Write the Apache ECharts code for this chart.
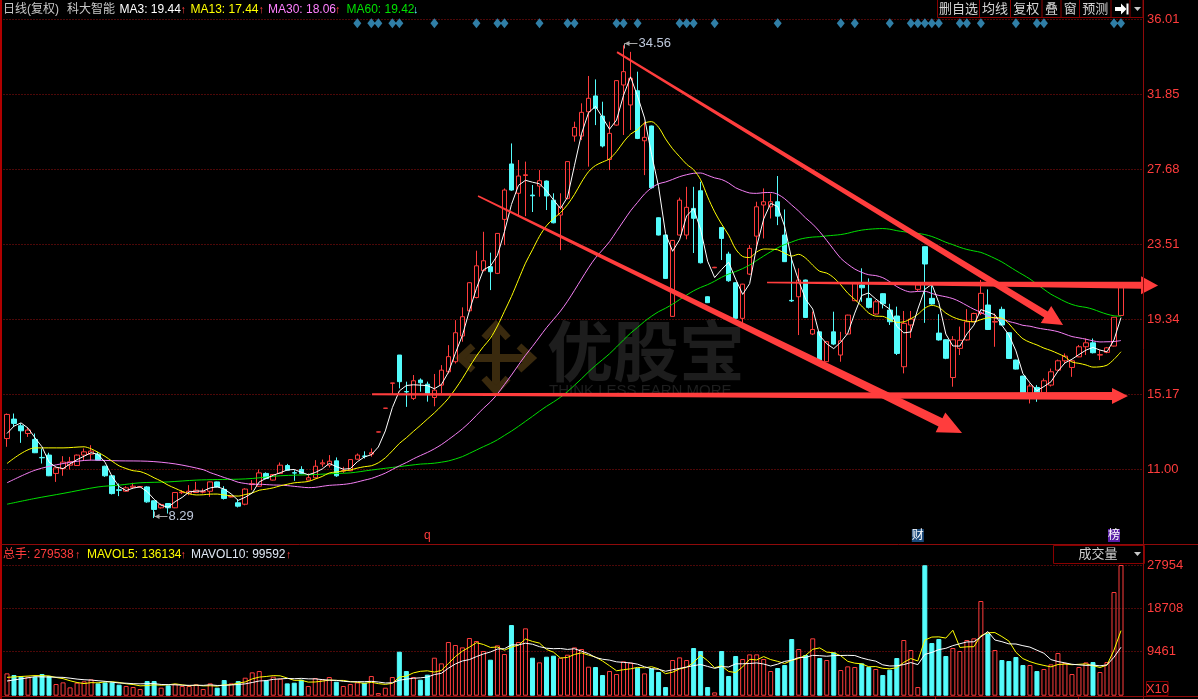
<!DOCTYPE html>
<html>
<head>
<meta charset="utf-8">
<title>科大智能 日线(复权)</title>
<script src="https://cdn.jsdelivr.net/npm/echarts@6/dist/echarts.min.js"></script>
<style>
html,body{margin:0;padding:0;background:#000;overflow:hidden;}
#chart{width:1198px;height:699px;}
</style>
</head>
<body>
<div id="chart"></div>
<script>
// ---------------- data ----------------
const opens = [
  12.71, 13.79, 13.42, 12.99, 12.66, 11.66, 11.79, 10.77, 11.04, 11.23,
  11.21, 11.79, 11.84, 11.84, 11.17, 10.64, 9.86, 9.78, 10.00, 10.02,
  10.02, 9.25, 8.86, 9.10, 8.86, 9.70, 9.66, 9.71, 9.73, 9.78,
  10.30, 9.88, 9.46, 9.14, 9.06, 10.15, 10.06, 10.77, 10.40, 10.77,
  11.21, 10.81, 10.99, 10.40, 10.53, 11.30, 11.23, 11.47, 10.90, 10.92,
  11.56, 11.74, 11.84, 13.07, 14.39, 15.78, 17.35, 15.32, 14.94, 15.96,
  15.73, 14.99, 15.68, 16.42, 16.98, 18.41, 19.81, 20.55, 22.04, 22.26,
  21.89, 24.89, 27.97, 26.34, 27.33, 26.24, 26.74, 27.02, 25.96, 25.13,
  26.06, 29.52, 29.52, 30.87, 31.75, 30.63, 28.22, 30.13, 32.36, 31.25,
  32.04, 29.26, 30.08, 24.98, 24.02, 19.50, 24.02, 24.02, 25.50, 26.48,
  20.59, 22.20, 24.44, 22.96, 21.37, 19.39, 21.85, 23.96, 25.69, 25.59,
  25.87, 24.02, 20.39, 20.59, 21.52, 18.52, 18.64, 16.98, 18.64, 17.35,
  18.52, 20.37, 21.24, 20.50, 19.63, 20.76, 19.85, 19.52, 16.70, 19.02,
  21.00, 23.37, 20.50, 18.57, 18.20, 16.10, 17.72, 18.19, 19.20, 19.66,
  20.13, 19.18, 19.89, 18.59, 17.07, 16.18, 15.22, 15.55, 15.25, 15.68,
  16.51, 17.03, 16.66, 17.25, 17.81, 18.03, 17.35, 17.50, 17.85, 19.55
];
const closes = [
  14.05, 13.55, 13.14, 13.18, 11.92, 11.64, 10.64, 11.08, 11.40, 11.42,
  11.79, 11.97, 12.01, 11.51, 10.64, 9.65, 9.83, 9.97, 10.06, 10.04,
  9.19, 8.77, 9.04, 8.86, 9.71, 9.74, 9.78, 9.84, 9.76, 10.30,
  10.02, 9.38, 9.49, 8.95, 9.90, 10.20, 10.80, 10.49, 10.71, 11.23,
  10.95, 10.79, 10.77, 10.53, 11.17, 11.36, 11.45, 10.64, 10.93, 11.54,
  11.79, 11.72, 11.92, 13.08, 14.40, 15.80, 15.87, 15.30, 15.92, 15.81,
  15.22, 15.40, 16.51, 17.26, 18.59, 19.48, 21.37, 22.31, 22.59, 21.98,
  24.11, 26.52, 26.52, 27.30, 27.37, 26.20, 27.04, 26.19, 24.70, 25.59,
  28.10, 30.00, 30.84, 31.62, 31.06, 28.97, 29.67, 32.60, 33.10, 32.73,
  29.39, 29.45, 26.65, 24.02, 21.61, 23.72, 25.96, 25.56, 24.95, 22.48,
  20.26, 22.23, 23.83, 21.48, 19.39, 21.29, 23.28, 25.59, 25.87, 25.87,
  25.07, 22.54, 20.36, 21.52, 19.44, 18.77, 17.07, 18.09, 17.96, 18.14,
  19.57, 21.33, 21.09, 20.00, 20.31, 20.20, 19.20, 17.44, 19.11, 19.35,
  21.25, 22.41, 20.19, 18.19, 17.17, 18.20, 18.17, 19.20, 19.66, 20.78,
  18.77, 19.22, 19.02, 17.16, 16.57, 15.22, 15.63, 15.25, 15.92, 16.42,
  17.03, 17.29, 17.03, 17.81, 18.03, 17.48, 17.37, 17.75, 19.45, 21.10
];
const lows = [
  12.25, 13.36, 12.47, 12.80, 11.90, 11.32, 10.62, 10.30, 10.64, 10.99,
  11.19, 11.50, 11.51, 11.49, 10.58, 9.60, 9.51, 9.75, 9.93, 10.00,
  9.14, 8.29, 8.82, 8.54, 8.84, 9.62, 9.56, 9.70, 9.66, 9.47,
  10.00, 9.32, 9.44, 8.88, 9.00, 9.84, 10.02, 10.45, 10.38, 10.75,
  10.93, 10.36, 10.73, 10.38, 10.49, 11.14, 11.10, 10.58, 10.80, 10.90,
  11.54, 11.60, 11.70, 13.06, 14.38, 15.15, 15.50, 14.47, 14.85, 15.31,
  14.76, 14.50, 15.22, 16.33, 16.88, 18.09, 19.78, 20.50, 22.00, 20.96,
  21.85, 23.46, 26.48, 25.13, 25.07, 25.30, 26.15, 25.41, 24.67, 23.18,
  26.00, 29.21, 29.30, 27.82, 30.13, 28.89, 27.63, 30.10, 29.58, 29.86,
  29.35, 27.35, 26.60, 24.00, 21.58, 19.48, 24.00, 23.78, 23.02, 22.44,
  20.24, 22.18, 22.63, 21.42, 19.37, 19.10, 21.80, 23.22, 23.83, 24.94,
  24.57, 22.52, 20.30, 18.46, 19.42, 18.46, 16.98, 16.96, 17.90, 16.98,
  18.50, 20.35, 20.31, 19.94, 19.60, 19.94, 19.02, 17.35, 16.33, 18.30,
  20.90, 19.14, 20.15, 18.15, 17.12, 15.59, 17.35, 18.15, 19.18, 19.57,
  18.74, 17.81, 19.00, 17.14, 16.55, 15.03, 14.66, 14.75, 15.23, 15.60,
  16.49, 16.88, 16.14, 17.23, 17.35, 17.44, 17.07, 17.45, 17.83, 19.53
];
const highs = [
  14.10, 14.10, 13.55, 13.30, 12.99, 12.15, 11.92, 11.10, 11.73, 11.69,
  11.82, 12.16, 12.34, 11.97, 11.20, 10.66, 10.21, 10.06, 10.25, 10.06,
  10.06, 9.27, 9.10, 9.12, 9.73, 9.84, 10.12, 10.30, 9.93, 10.32,
  10.32, 10.06, 9.52, 9.32, 9.95, 10.40, 10.99, 10.83, 10.73, 11.38,
  11.30, 10.95, 11.17, 10.77, 11.51, 11.54, 11.79, 11.66, 11.14, 11.56,
  11.88, 12.00, 12.16, 13.09, 14.41, 15.80, 17.35, 15.87, 16.24, 16.05,
  15.87, 16.30, 16.79, 17.90, 19.29, 20.00, 21.40, 23.15, 24.20, 23.04,
  24.13, 26.61, 29.11, 28.19, 28.10, 26.80, 27.63, 27.05, 26.34, 26.34,
  28.12, 30.32, 31.34, 32.86, 32.67, 31.43, 30.32, 32.62, 34.56, 34.20,
  33.10, 30.32, 30.10, 25.00, 24.04, 23.74, 26.10, 26.70, 26.70, 26.98,
  20.61, 22.25, 24.46, 23.09, 21.39, 21.31, 23.46, 25.87, 26.61, 26.33,
  27.30, 25.44, 22.81, 22.17, 21.54, 19.76, 18.66, 18.11, 19.76, 18.64,
  19.59, 21.37, 22.17, 21.61, 20.41, 20.78, 20.20, 20.04, 19.80, 19.80,
  21.40, 23.39, 21.24, 19.62, 18.22, 18.40, 18.93, 19.90, 19.70, 21.52,
  21.00, 19.66, 20.04, 18.61, 17.09, 16.20, 15.77, 15.68, 16.05, 16.60,
  17.10, 17.44, 17.05, 17.91, 18.27, 18.27, 17.63, 17.80, 19.47, 21.12
];
// volume in units of 10 hands (axis "X10")
const volumes = [
  4777, 4421, 4207, 4064, 4064, 4635, 4207, 2496, 2852, 1783,
  2781, 3066, 3494, 2638, 2852, 2852, 2353, 2068, 1854, 1426,
  3137, 3137, 1711, 2210, 2496, 2068, 2068, 2424, 1426, 2638,
  1711, 3351, 2638, 3137, 3850, 4991, 5276, 3280, 4064, 3636,
  2638, 2781, 3422, 2068, 3779, 3494, 3993, 2995, 2068, 2496,
  2852, 2781, 4207, 570, 1711, 3993, 9412, 5276, 3993, 3422,
  4492, 8128, 6916, 11479, 10838, 10339, 12335, 11693, 9554, 7700,
  10766, 8913, 15116, 11479, 14403, 8128, 7130, 8342, 8556, 8128,
  8770, 10339, 9982, 6203, 6132, 4421, 5276, 4635, 7344, 7059,
  5989, 4777, 5847, 5062, 1854, 7629, 8200, 7629, 10196, 9554,
  1854, 713, 9554, 4207, 8485, 7843, 8841, 8841, 7843, 5276,
  5918, 6560, 12121, 9982, 8699, 12264, 8057, 7629, 9269, 5490,
  6274, 6132, 6916, 6132, 5704, 4421, 5561, 8057, 11907, 9768,
  1854, 27900, 11265, 12121, 8485, 10196, 9554, 11907, 12264, 20249,
  13333, 9768, 7629, 7415, 8271, 6560, 6560, 5276, 5704, 6702,
  9126, 6987, 4635, 6132, 7130, 7201, 5062, 7201, 22174, 27954
];

// moving-average values at the left edge (their windows start before the visible days)
const ma3Early = [[0, 12.99], [1, 13.40]];
const ma13Early = [[0, 11.32], [4, 12.19], [8, 12.19], [11, 12.25]];
const ma30Early = [[0, 10.25], [4, 10.95], [8, 11.32], [12, 11.51], [16, 11.47], [20, 11.45], [24, 11.30], [28, 10.98]];
const ma60Early = [[0, 9.06], [4, 9.38], [8, 9.66], [13, 10.02], [16, 10.12], [19, 10.25], [23, 10.30], [27, 10.40],
  [30, 10.43], [33, 10.45], [35, 10.49], [39, 10.64], [44, 10.71], [47, 10.77], [49, 10.80], [52, 10.96], [56, 11.15]];
const mavol5Early = [[0, 3920], [3, 4200]];
const mavol10Early = [[0, 3140], [4, 4060], [8, 3920]];

// axis ticks
const priceTicks = [11.00, 15.17, 19.34, 23.51, 27.68, 31.85, 36.01];
const volumeTicks = [9461, 18708, 27954];

// legend texts
const titleText = ['日线(复权)', '科大智能'];
const maLegend = ['MA3: 19.44', 'MA13: 17.44', 'MA30: 18.06', 'MA60: 19.42'];
const maTrend = ['↑', '↑', '↑', '↓'];
const volLegend = ['总手: 279538', 'MAVOL5: 136134', 'MAVOL10: 99592'];
const toolbarLabels = ['删自选', '均线', '复权', '叠', '窗', '预测'];

// signal diamonds (day indexes), extreme labels, event marks, drawn trend lines [day, price, day, price]
const signalDays = [50, 52, 53, 55, 56, 61, 67, 70, 71, 76, 80, 81, 87, 88, 90, 96, 97, 98, 101, 110,
  119, 121, 126, 129, 130, 131, 132, 133, 136, 137, 139, 144, 147, 148, 158, 159];
const extremes = [[88, 34.56], [21, 8.29]];
const eventMarks = [[60, 'q'], [130, '财'], [158, '榜']];
const trendLines = [
  [87.07, 34.19, 150.73, 19.02],
  [67.23, 26.19, 136.31, 13.02],
  [108.48, 21.38, 164.29, 21.22],
  [52.10, 15.17, 160.00, 15.07]
];

// ---------------- styles ----------------
const RED = '#ff3c3c';
const CYAN = '#54fcfc';
const ARROW_RED = '#ff3d3d';
const GRID_DOT = '#9a1010';
const FRAME = '#8f0a0a';
const FONT = "'Liberation Sans','Noto Sans CJK SC',sans-serif";
const DIAMOND_Y = 35.79;
const EVENT_Y = 7.32;
const arrowStyles = [
  {w0: 2, w1: 7, hl: 20, hw: 10},
  {w0: 1.5, w1: 9, hl: 24, hw: 11},
  {w0: 1.5, w1: 7, hl: 17, hw: 9},
  {w0: 2, w1: 8, hl: 16, hw: 8}
];
const eventStyles = {
  'q': {fg: RED, bg: 'transparent'},
  '财': {fg: '#ffffff', bg: '#1b4a7c'},
  '榜': {fg: '#ffffff', bg: '#5a1ea6'}
};

function movingAverage(values, n) {
  const out = [];
  let sum = 0;
  for (let i = 0; i < values.length; i++) {
    sum += values[i];
    if (i >= n) sum -= values[i - n];
    if (i >= n - 1) out.push([i, +(sum / n).toFixed(3)]);
  }
  return out;
}

const candleData = opens.map((o, i) => [i, o, closes[i], lows[i], highs[i]]);
const volumeData = volumes.map((v, i) => {
  const up = closes[i] >= opens[i];
  return {
    value: [i, v],
    itemStyle: up ? {color: 'rgba(0,0,0,0)', borderColor: RED, borderWidth: 1}
                  : {color: CYAN, borderColor: CYAN, borderWidth: 1}
  };
});
const maxHigh = Math.max.apply(null, highs);

const X_MIN = -0.5, X_MAX = 162.14;
const GRID_LEFT = 3.5, GRID_W = 1139.5;

function lineSeries(name, data, color, xi, smooth) {
  return {
    type: 'line', name, data, xAxisIndex: xi, yAxisIndex: xi,
    symbol: 'none', showSymbol: false, smooth: smooth || false, silent: true, z: 3,
    lineStyle: {color, width: 1}
  };
}

function renderArrow(params, api) {
  const a = api.coord([api.value(0), api.value(1)]);
  const b = api.coord([api.value(2), api.value(3)]);
  const s = arrowStyles[params.dataIndex];
  const dx = b[0] - a[0], dy = b[1] - a[1], len = Math.hypot(dx, dy);
  const ux = dx / len, uy = dy / len, nx = -uy, ny = ux;
  const bx = b[0] - ux * s.hl, by = b[1] - uy * s.hl;
  const pts = [
    [a[0] + nx * s.w0 / 2, a[1] + ny * s.w0 / 2],
    [bx + nx * s.w1 / 2, by + ny * s.w1 / 2],
    [bx + nx * s.hw, by + ny * s.hw],
    [b[0], b[1]],
    [bx - nx * s.hw, by - ny * s.hw],
    [bx - nx * s.w1 / 2, by - ny * s.w1 / 2],
    [a[0] - nx * s.w0 / 2, a[1] - ny * s.w0 / 2]
  ];
  return {type: 'polygon', shape: {points: pts}, style: {fill: ARROW_RED}};
}

function renderExtreme(params, api) {
  const v = api.value(1);
  const p = api.coord([api.value(0), v]);
  const dir = v >= maxHigh ? 1 : -1;
  const x = Math.round(p[0]) + 0.5, y = Math.round(p[1] - 2) + 0.5;
  const c = '#a8a8a8';
  return {type: 'group', children: [
    {type: 'line', shape: {x1: x, y1: y, x2: x + 13, y2: y}, style: {stroke: c, lineWidth: 1}},
    {type: 'polygon', shape: {points: [[x, y], [x + 5, y - 2.5], [x + 5, y + 2.5]]}, style: {fill: c}},
    {type: 'line', shape: {x1: x, y1: y, x2: x, y2: y + 5 * dir}, style: {stroke: c, lineWidth: 1}},
    {type: 'text', x: x + 14, y: y, style: {text: v.toFixed(2), fill: '#bfc9dc', font: '13px ' + FONT, align: 'left', verticalAlign: 'middle'}}
  ]};
}

function renderEvent(params, api) {
  const p = api.coord([api.value(0), api.value(1)]);
  const txt = eventMarks[params.dataIndex][1];
  const st = eventStyles[txt];
  return {type: 'text', x: p[0], y: p[1], style: {
    text: txt, fill: st.fg, backgroundColor: st.bg, font: '12px ' + FONT,
    align: 'center', verticalAlign: 'middle', padding: [1, 0, 0, 0]
  }};
}

// ---------------- decorations (pixel layout) ----------------
function t(x, y, text, color, size, align, extra) {
  return Object.assign({type: 'text', x, y, z: 100, silent: true, style: {
    text, fill: color, font: (size || 12) + 'px ' + FONT, align: align || 'left', verticalAlign: 'middle'
  }}, extra || {});
}
function ln(x1, y1, x2, y2, color, w, z) {
  return {type: 'line', z: z == null ? 100 : z, silent: true, shape: {x1, y1, x2, y2}, style: {stroke: color, lineWidth: w || 1}};
}
function box(x, y, w, h, stroke, fill) {
  return {type: 'rect', z: 99, silent: true, shape: {x, y, width: w, height: h}, style: {stroke, fill: fill || 'rgba(0,0,0,0)', lineWidth: 1}};
}

const graphics = [];
// frame
graphics.push({type: 'rect', z: 100, silent: true, shape: {x: 0, y: 0, width: 2, height: 699}, style: {fill: '#b00000'}});
graphics.push(ln(1143.5, 0, 1143.5, 699, FRAME, 1));
graphics.push(ln(0, 544.5, 1198, 544.5, FRAME, 1));
graphics.push(ln(0, 696.5, 1198, 696.5, FRAME, 1));
graphics.push(box(935.5, 696.5, 143, 4, '#a00000'));
// header
graphics.push(t(3, 9.5, titleText[0], '#c8c8c8', 12));
graphics.push(t(67, 9.5, titleText[1], '#c8c8c8', 12));
const maColors = ['#ffffff', '#ffff00', '#ff80ff', '#00e000'];
const maX = [119.5, 190.5, 268, 346.5];
const arrowX = [180.5, 258.5, 335, 413];
maLegend.forEach((s, k) => {
  graphics.push(t(maX[k], 9.5, s, maColors[k], 12));
  graphics.push(t(arrowX[k], 9.5, maTrend[k], maTrend[k] === '↑' ? RED : CYAN, 11));
});
// toolbar
const tbEdges = [937.5, 979.5, 1010.5, 1042, 1061, 1079.5, 1111, 1130, 1143];
graphics.push(box(937.5, -1, 205.5, 18.5, '#8a0000', '#000'));
for (let k = 1; k < tbEdges.length - 1; k++) graphics.push(ln(tbEdges[k], 0, tbEdges[k], 17.5, '#8a0000', 1));
toolbarLabels.forEach((s, k) => graphics.push(t((tbEdges[k] + tbEdges[k + 1]) / 2, 9, s, '#d4d4d4', 13, 'center')));
graphics.push({type: 'polygon', z: 101, silent: true, shape: {points: [[1115, 7], [1121, 7], [1121, 3.5], [1126.5, 9], [1121, 14.5], [1121, 11], [1115, 11]]}, style: {fill: '#ffffff'}});
graphics.push({type: 'rect', z: 101, silent: true, shape: {x: 1126.5, y: 3.5, width: 2, height: 11}, style: {fill: '#ffffff'}});
graphics.push({type: 'polygon', z: 101, silent: true, shape: {points: [[1134, 7], [1141, 7], [1137.5, 11]]}, style: {fill: '#c8c8c8'}});
// volume legend
graphics.push(t(3, 555, volLegend[0], RED, 12));
graphics.push(t(75, 555, '↑', RED, 11));
graphics.push(t(87, 555, volLegend[1], '#ffff00', 12));
graphics.push(t(180.5, 555, '↑', RED, 11));
graphics.push(t(191, 555, volLegend[2], '#dfe8f5', 12));
graphics.push(t(286, 555, '↑', RED, 11));
// 成交量 box
graphics.push(box(1053.5, 545.5, 91, 18, '#8a0000', '#000'));
graphics.push(t(1098, 554.5, '成交量', '#d0d0d0', 13, 'center'));
graphics.push({type: 'polygon', z: 101, silent: true, shape: {points: [[1134, 552], [1141, 552], [1137.5, 556]]}, style: {fill: '#c8c8c8'}});
// X10 box
graphics.push(box(1146.5, 681.5, 21.5, 14, '#8a0000', '#000'));
graphics.push(t(1157.5, 689, 'X10', RED, 13, 'center'));
// watermark
const WM = '#3a2a0e';
const wm = [
  ln(496, 328, 496, 388, WM, 8, 0), ln(463, 358, 529, 358, WM, 8, 0),
  {type: 'polyline', z: 0, silent: true, shape: {points: [[484, 338], [496, 325], [508, 338]]}, style: {stroke: WM, lineWidth: 7, fill: null}},
  {type: 'polyline', z: 0, silent: true, shape: {points: [[484, 378], [496, 391], [508, 378]]}, style: {stroke: WM, lineWidth: 7, fill: null}},
  {type: 'polyline', z: 0, silent: true, shape: {points: [[473, 346], [460, 358], [473, 370]]}, style: {stroke: WM, lineWidth: 7, fill: null}},
  {type: 'polyline', z: 0, silent: true, shape: {points: [[519, 346], [532, 358], [519, 370]]}, style: {stroke: WM, lineWidth: 7, fill: null}},
  {type: 'text', z: 0, silent: true, x: 547, y: 351, style: {text: '优股宝', fill: '#1d1d1d', font: 'bold 66px \'Noto Sans CJK SC\',sans-serif', align: 'left', verticalAlign: 'middle'}},
  {type: 'text', z: 0, silent: true, x: 549, y: 391, style: {text: 'THINK LESS EARN MORE', fill: '#1f1f1f', font: '15px ' + FONT, align: 'left', verticalAlign: 'middle'}}
];
wm.forEach(g => graphics.push(g));

// ---------------- option ----------------
const chart = echarts.init(document.getElementById('chart'), null, {renderer: 'canvas'});
const option = {
  backgroundColor: '#000000',
  animation: false,
  grid: [
    {left: GRID_LEFT, top: 19.3, width: GRID_W, height: 525},
    {left: GRID_LEFT, top: 565, width: GRID_W, height: 130.7}
  ],
  xAxis: [
    {type: 'value', gridIndex: 0, min: X_MIN, max: X_MAX, show: false, splitLine: {show: false}},
    {type: 'value', gridIndex: 1, min: X_MIN, max: X_MAX, show: false, splitLine: {show: false}}
  ],
  yAxis: [
    {
      type: 'value', gridIndex: 0, position: 'right', min: 6.83169, max: 36.01, scale: true,
      axisLine: {show: false}, axisTick: {show: false, customValues: priceTicks},
      axisLabel: {customValues: priceTicks, margin: 4, color: RED, fontSize: 13, fontFamily: FONT,
        formatter: v => v.toFixed(2)},
      splitLine: {show: true, lineStyle: {color: GRID_DOT, type: [1, 2], width: 1}}
    },
    {
      type: 'value', gridIndex: 1, position: 'right', min: 0, max: 27954,
      axisLine: {show: false}, axisTick: {show: false, customValues: volumeTicks},
      axisLabel: {customValues: volumeTicks, margin: 4, color: RED, fontSize: 13, fontFamily: FONT,
        formatter: v => String(Math.round(v))},
      splitLine: {show: true, lineStyle: {color: GRID_DOT, type: [1, 2], width: 1}}
    }
  ],
  graphic: {elements: graphics},
  series: [
    {
      type: 'candlestick', name: 'K', xAxisIndex: 0, yAxisIndex: 0, data: candleData,
      encode: {x: 0, y: [1, 2, 3, 4]}, barWidth: 5, silent: true, z: 2,
      itemStyle: {color: 'rgba(0,0,0,0)', color0: CYAN, borderColor: RED, borderColor0: CYAN, borderColorDoji: RED, borderWidth: 1}
    },
    lineSeries('MA60', ma60Early.concat(movingAverage(closes, 60)), '#00e000', 0, 0.3),
    lineSeries('MA30', ma30Early.concat(movingAverage(closes, 30)), '#f57ff5', 0, 0.3),
    lineSeries('MA13', ma13Early.concat(movingAverage(closes, 13)), '#ffff00', 0, 0.3),
    lineSeries('MA3', ma3Early.concat(movingAverage(closes, 3)), '#ffffff', 0, false),
    {
      type: 'scatter', name: 'signals', xAxisIndex: 0, yAxisIndex: 0, silent: true, z: 4,
      data: signalDays.map(i => [i, DIAMOND_Y]), symbol: 'diamond', symbolSize: [8, 10],
      itemStyle: {color: '#3b9dd0'}
    },
    {
      type: 'custom', name: 'extremes', xAxisIndex: 0, yAxisIndex: 0, silent: true, z: 6,
      data: extremes, renderItem: renderExtreme, clip: false
    },
    {
      type: 'custom', name: 'events', xAxisIndex: 0, yAxisIndex: 0, silent: true, z: 6,
      data: eventMarks.map(e => [e[0], EVENT_Y]), renderItem: renderEvent, clip: false
    },
    {
      type: 'custom', name: 'trendLines', xAxisIndex: 0, yAxisIndex: 0, silent: true, z: 8,
      data: trendLines, encode: {x: [0, 2], y: [1, 3]}, renderItem: renderArrow, clip: false
    },
    {
      type: 'bar', name: 'VOL', xAxisIndex: 1, yAxisIndex: 1, data: volumeData, barWidth: 5, silent: true, z: 2
    },
    lineSeries('MAVOL5', mavol5Early.concat(movingAverage(volumes, 5)), '#ffff00', 1, false),
    lineSeries('MAVOL10', mavol10Early.concat(movingAverage(volumes, 10)), '#ffffff', 1, false)
  ]
};
chart.setOption(option);
</script>
</body>
</html>
